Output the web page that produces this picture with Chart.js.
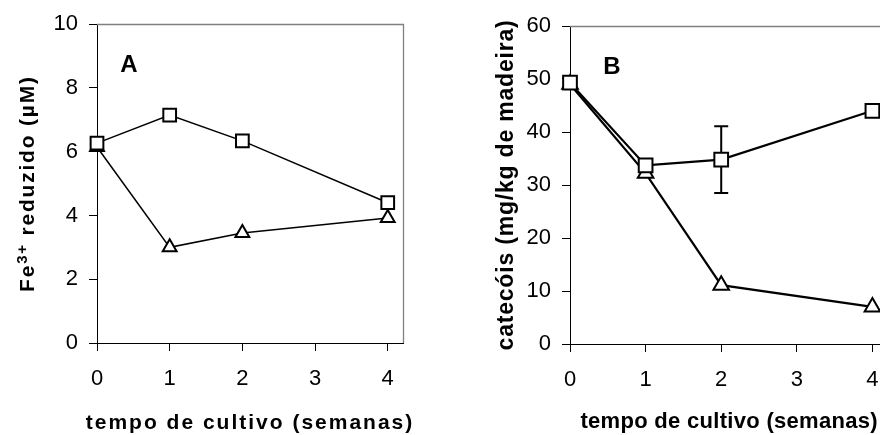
<!DOCTYPE html>
<html><head><meta charset="utf-8">
<script src="https://cdn.jsdelivr.net/npm/chart.js@4/dist/chart.umd.min.js"></script>
<style>
html,body{margin:0;padding:0;background:#fff;overflow:hidden;width:880px;height:435px;position:relative;}
#a{position:absolute;left:0;top:0;}
#b{position:absolute;left:440px;top:0;}
</style></head><body>
<canvas id="a" width="440" height="435"></canvas>
<canvas id="b" width="460" height="435"></canvas>
<script>
// ---- data ----
const weeks = [0, 1, 2, 4];
const xTickValues = [0, 1, 2, 3, 4];
const xTitle = 'tempo de cultivo (semanas)';

// y title of panel A: "Fe" + superscript "3+" + " reduzido (µM)"
const feTitleParts = ['Fe', '3+', ' reduzido (\u00B5M)'];
const feSquareValues = [6.27, 7.15, 6.34, 4.40];
const feTriangleValues = [6.15, 3.00, 3.45, 3.92];
const feYTicks = [0, 2, 4, 6, 8, 10];

const catTitle = 'catec\u00F3is (mg/kg de madeira)';
const catSquareValues = [49.3, 33.7, 34.8, 44.0];
const catSquareErrors = [0, 0, 6.3, 0];
const catTriangleValues = [49.0, 32.2, 11.1, 7.0];
const catYTicks = [0, 10, 20, 30, 40, 50, 60];

const FONT = "'Liberation Sans', Arial, Helvetica, sans-serif";

// ---- plugins ----
const framePlugin = {
  id: 'frame',
  afterDatasetsDraw(chart) {
    const {ctx, chartArea: a} = chart;
    ctx.save();
    ctx.strokeStyle = '#808080';
    ctx.lineWidth = 1.3;
    ctx.beginPath();
    ctx.moveTo(a.left, Math.round(a.top) + 0.5);
    ctx.lineTo(Math.round(a.right) + 0.5, Math.round(a.top) + 0.5);
    ctx.lineTo(Math.round(a.right) + 0.5, a.bottom);
    ctx.stroke();
    ctx.restore();
  }
};

const errorBarPlugin = {
  id: 'errorBars',
  beforeDatasetsDraw(chart) {
    const ctx = chart.ctx;
    const xs = chart.scales.x, ys = chart.scales.y;
    chart.data.datasets.forEach(ds => {
      if (!ds.errors) return;
      ds.data.forEach((pt, j) => {
        const e = ds.errors[j];
        if (!e) return;
        const px = xs.getPixelForValue(pt.x);
        const t = ys.getPixelForValue(pt.y + e);
        const b = ys.getPixelForValue(pt.y - e);
        ctx.save();
        ctx.strokeStyle = '#000';
        ctx.lineWidth = 2;
        ctx.beginPath();
        ctx.moveTo(px, t); ctx.lineTo(px, b);
        ctx.moveTo(px - 7, t); ctx.lineTo(px + 7, t);
        ctx.moveTo(px - 7, b); ctx.lineTo(px + 7, b);
        ctx.stroke();
        ctx.restore();
      });
    });
  }
};

const panelLabelPlugin = {
  id: 'panelLabel',
  afterDraw(chart, args, opts) {
    if (!opts || !opts.text) return;
    const {ctx, chartArea: a} = chart;
    ctx.save();
    ctx.font = 'bold 24px ' + FONT;
    ctx.fillStyle = '#000';
    ctx.textAlign = 'center';
    ctx.textBaseline = 'middle';
    ctx.fillText(opts.text, a.left + opts.dx, a.top + opts.dy);
    ctx.restore();
  }
};

// vertical axis title with a superscript part (panel A)
const richYTitlePlugin = {
  id: 'richYTitle',
  afterDraw(chart, args, opts) {
    if (!opts || !opts.parts) return;
    const ctx = chart.ctx;
    const ys = chart.scales.y;
    const fonts = ['bold 21px ' + FONT, 'bold 15px ' + FONT, 'bold 21px ' + FONT];
    const raise = [0, 7, 0];
    ctx.save();
    ctx.letterSpacing = opts.spacing;
    const widths = opts.parts.map((t, i) => { ctx.font = fonts[i]; return ctx.measureText(t).width; });
    const total = widths.reduce((s, w) => s + w, 0);
    const yc = (ys.top + ys.bottom) / 2;
    ctx.translate(ys.left + opts.baseline, yc);
    ctx.rotate(-Math.PI / 2);
    ctx.fillStyle = '#000';
    ctx.textAlign = 'left';
    ctx.textBaseline = 'alphabetic';
    let u = -total / 2;
    opts.parts.forEach((t, i) => {
      ctx.font = fonts[i];
      ctx.fillText(t, u, -raise[i]);
      u += widths[i];
    });
    ctx.restore();
  }
};

// axis titles: letter spacing and no squeezing to the plot width
const spacedTitlesPlugin = {
  id: 'spacedTitles',
  beforeDraw(chart, args, opts) {
    ['x', 'y'].forEach(id => {
      const s = chart.scales[id];
      if (!s || s._spacedPatched) return;
      const orig = s.drawTitle;
      s.drawTitle = function () {
        const c = this.ctx;
        const prev = c.letterSpacing;
        c.letterSpacing = (opts && opts[id]) || '0px';
        const l = this.left, r = this.right, t = this.top, b = this.bottom;
        if (id === 'x') { this.left = l - 100; this.right = r + 100; }
        else { this.top = t - 100; this.bottom = b + 100; }
        orig.call(this);
        this.left = l; this.right = r; this.top = t; this.bottom = b;
        c.letterSpacing = prev || '0px';
      };
      s._spacedPatched = true;
    });
  }
};

function pts(xs, ys) { return xs.map((x, i) => ({x: x, y: ys[i]})); }

function makeChart(canvas, p) {
  return new Chart(canvas, {
    type: 'line',
    data: {
      datasets: [
        {
          data: pts(weeks, p.squares),
          errors: p.errors,
          borderColor: '#000', borderWidth: p.lineWidth,
          pointStyle: 'rect', pointRadius: p.sqR, pointBorderWidth: 2,
          pointBackgroundColor: '#fff', pointBorderColor: '#000',
          clip: false, tension: 0
        },
        {
          data: pts(weeks, p.triangles),
          borderColor: '#000', borderWidth: p.lineWidth,
          pointStyle: 'triangle', pointRadius: p.trR, pointBorderWidth: 2,
          pointBackgroundColor: '#fff', pointBorderColor: '#000',
          clip: false, tension: 0
        }
      ]
    },
    options: {
      responsive: false,
      animation: false,
      events: [],
      devicePixelRatio: 1,
      layout: {padding: {top: p.top, right: p.right, left: 0, bottom: 0}},
      plugins: {
        legend: {display: false},
        tooltip: {enabled: false},
        panelLabel: {text: p.label, dx: p.labelDx, dy: p.labelDy},
        spacedTitles: {x: p.xSpacing, y: p.ySpacing},
        richYTitle: p.richY || {}
      },
      scales: {
        x: {
          type: 'linear', min: 0, max: 4.21,
          afterBuildTicks: s => { s.ticks = xTickValues.map(v => ({value: v})); },
          afterFit: s => { s.height = p.xHeight; },
          grid: {drawOnChartArea: false, drawTicks: true, tickLength: 8, color: '#000', lineWidth: 1},
          border: {display: true, color: '#000', width: 1},
          ticks: {font: {family: FONT, size: 22}, color: '#000', padding: p.xTickPad, maxRotation: 0, autoSkip: false},
          title: {display: true, text: xTitle, color: '#000',
                  font: {family: FONT, size: p.xTitleSize, weight: 'bold', lineHeight: 1},
                  padding: {top: 0, bottom: p.xTitlePad}}
        },
        y: {
          type: 'linear', min: 0, max: p.yMax,
          afterBuildTicks: s => { s.ticks = p.yTicks.map(v => ({value: v})); },
          afterFit: s => { s.width = p.yWidth; },
          grid: {drawOnChartArea: false, drawTicks: true, tickLength: 8, color: '#000', lineWidth: 1},
          border: {display: true, color: '#000', width: 1},
          ticks: {font: {family: FONT, size: 22}, color: '#000', padding: p.yTickPad, autoSkip: false},
          title: {display: !!p.yTitle, text: p.yTitle || '', color: '#000',
                  font: {family: FONT, size: p.yTitleSize, weight: 'bold', lineHeight: 1},
                  padding: {top: p.yTitlePad, bottom: 0}}
        }
      }
    },
    plugins: [framePlugin, errorBarPlugin, panelLabelPlugin, spacedTitlesPlugin, richYTitlePlugin]
  });
}

makeChart(document.getElementById('a'), {
  squares: feSquareValues, triangles: feTriangleValues, errors: null,
  yTicks: feYTicks, yMax: 10, yTitle: null,
  richY: {parts: feTitleParts, baseline: 34, spacing: '1.8px'},
  lineWidth: 1.5, sqR: 9, trR: 8,
  top: 22, right: 37, yWidth: 97, xHeight: 92,
  xTickPad: 15, yTickPad: 11,
  xTitleSize: 21, xTitlePad: 1, xSpacing: '2px',
  yTitleSize: 21, yTitlePad: 19, ySpacing: '2px',
  label: 'A', labelDx: 32, labelDy: 41
});

makeChart(document.getElementById('b'), {
  squares: catSquareValues, triangles: catTriangleValues, errors: catSquareErrors,
  yTicks: catYTicks, yMax: 60, yTitle: catTitle,
  lineWidth: 2.2, sqR: 9.7, trR: 9,
  top: 26, right: 11, yWidth: 130, xHeight: 91,
  xTickPad: 15, yTickPad: 11,
  xTitleSize: 22, xTitlePad: 2.5, xSpacing: '0.3px',
  yTitleSize: 23, yTitlePad: 55, ySpacing: '0.8px',
  label: 'B', labelDx: 42, labelDy: 41
});
</script>
</body></html>
